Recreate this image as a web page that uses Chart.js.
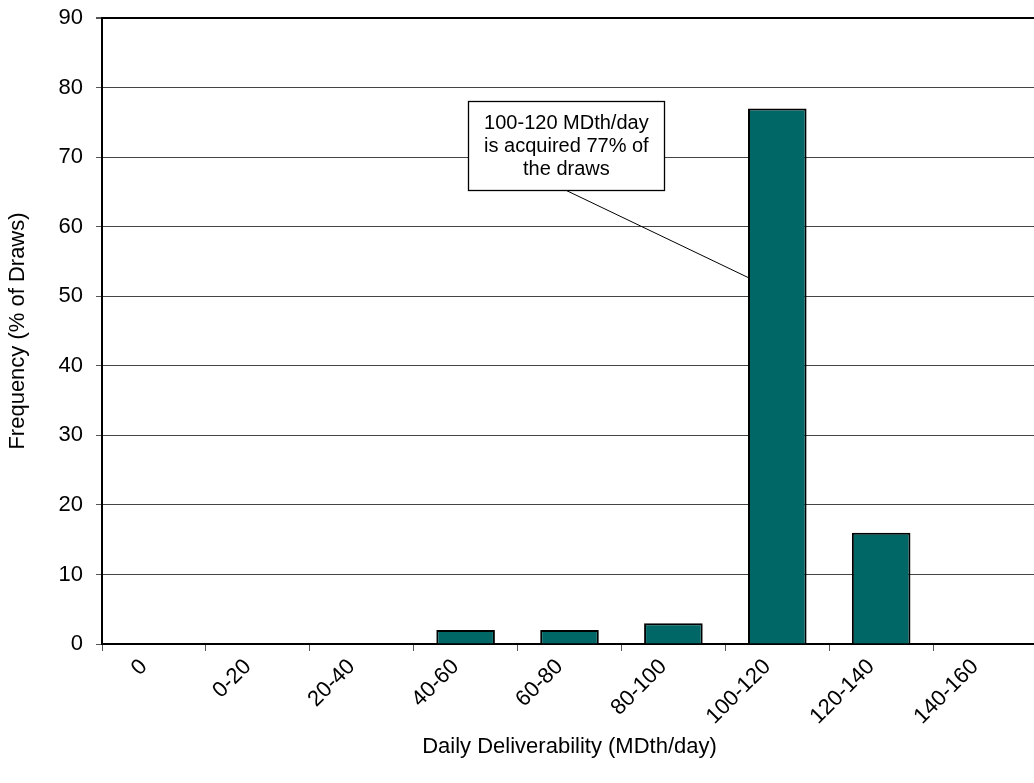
<!DOCTYPE html>
<html><head><meta charset="utf-8">
<script src="https://cdn.jsdelivr.net/npm/chart.js@4.4.0/dist/chart.umd.min.js"></script>
<style>
html,body{margin:0;padding:0;overflow:hidden;background:#fff;width:1034px;height:783px}
#wrap{position:absolute;left:0;top:0;width:1100px;height:783px}
</style>
</head><body>
<div id="wrap"><canvas id="c" width="1100" height="783"></canvas></div>
<script>
const categories = ['0','0-20','20-40','40-60','60-80','80-100','100-120','120-140','140-160'];
const frequency = [0, 0, 0, 2, 2, 3, 77, 16, 0];
const yTicks = [0, 10, 20, 30, 40, 50, 60, 70, 80, 90];
const xTitle = 'Daily Deliverability (MDth/day)';
const yTitle = 'Frequency (% of Draws)';
const calloutLines = ['100-120 MDth/day', 'is acquired 77% of', 'the draws'];
const calloutCategory = 6;
const calloutValue = 52.7;

Chart.defaults.font.family = "'Liberation Sans', Arial, sans-serif";
Chart.defaults.color = '#000';

const calloutPlugin = {
  id: 'callout',
  afterDatasetsDraw(chart) {
    const ctx = chart.ctx;
    const xs = chart.scales.x, ys = chart.scales.y;
    const bar = chart.getDatasetMeta(0).data[calloutCategory];
    const tx = bar.x - bar.width / 2;
    const ty = ys.getPixelForValue(calloutValue);
    const step = xs.getPixelForValue(1) - xs.getPixelForValue(0);
    const cx = xs.getPixelForValue(3) + 0.97 * step;
    const boxTop = Math.round(ys.getPixelForValue(78.1)) + 0.5;
    const boxBottom = Math.round(ys.getPixelForValue(65.3)) + 0.5;
    const boxW = 196;
    const left = Math.round(cx - boxW / 2) + 0.5;
    ctx.save();
    ctx.strokeStyle = '#000';
    ctx.lineWidth = 1;
    ctx.beginPath();
    ctx.moveTo(cx, boxBottom);
    ctx.lineTo(tx, ty);
    ctx.stroke();
    ctx.fillStyle = '#fff';
    ctx.fillRect(left, boxTop, boxW, boxBottom - boxTop);
    ctx.lineWidth = 1.3;
    ctx.strokeRect(left, boxTop, boxW, boxBottom - boxTop);
    ctx.fillStyle = '#000';
    ctx.font = "20px 'Liberation Sans', Arial, sans-serif";
    ctx.textAlign = 'center';
    ctx.textBaseline = 'middle';
    const lh = 23;
    const mid = (boxTop + boxBottom) / 2;
    calloutLines.forEach((t, i) => {
      ctx.fillText(t, cx, mid + (i - (calloutLines.length - 1) / 2) * lh);
    });
    ctx.restore();
  }
};

new Chart(document.getElementById('c'), {
  type: 'bar',
  data: {
    labels: categories,
    datasets: [{
      data: frequency,
      backgroundColor: '#006666',
      borderColor: '#000',
      borderWidth: 2,
      borderSkipped: 'bottom',
      categoryPercentage: 1,
      barPercentage: 0.564
    }]
  },
  options: {
    responsive: false,
    devicePixelRatio: 1,
    animation: false,
    layout: { padding: { top: 18, left: 0, right: 63, bottom: 0 } },
    plugins: { legend: { display: false }, tooltip: { enabled: false }, title: { display: false } },
    scales: {
      x: {
        afterFit(scale) { scale.height = 139; },
        border: { display: true, color: '#000', width: 2 },
        grid: { display: true, drawOnChartArea: false, drawTicks: true, tickLength: 7, tickColor: '#555', offset: true },
        ticks: { autoSkip: false, maxRotation: 45, minRotation: 45, padding: 3, labelOffset: -10, font: { size: 22 }, color: '#000' },
        title: { display: true, text: xTitle, font: { size: 22 }, color: '#000', padding: { top: 0, bottom: 23 } }
      },
      y: {
        min: 0, max: 90,
        afterFit(scale) { scale.width = 102; scale.paddingTop = 0; scale.paddingBottom = 0; },
        afterBuildTicks(scale) { scale.ticks = yTicks.map(v => ({ value: v })); },
        border: { display: true, color: '#000', width: 2 },
        grid: {
          color: (c) => c.tick && c.tick.value === 90 ? '#000' : '#444',
          lineWidth: (c) => c.tick && c.tick.value === 90 ? 2 : 1,
          tickLength: 6, tickColor: '#555'
        },
        ticks: { padding: 13, font: { size: 22 }, color: '#000' },
        title: { display: true, text: yTitle, font: { size: 22 }, color: '#000', padding: { top: 5, bottom: 0 } }
      }
    }
  },
  plugins: [calloutPlugin]
});
</script>
</body></html>
